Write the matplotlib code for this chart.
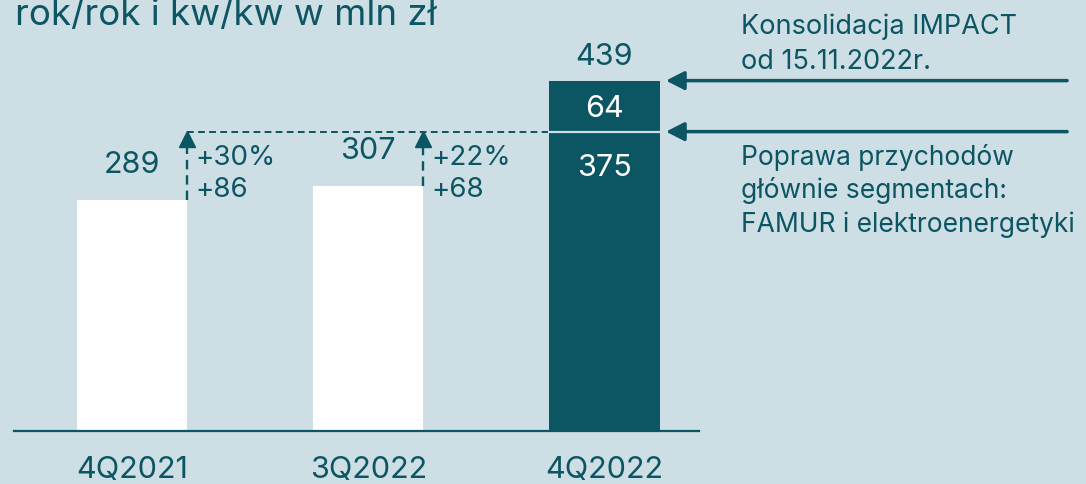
import matplotlib
matplotlib.use("Agg")
import matplotlib.pyplot as plt

plt.rcParams['font.family'] = ['Inter', 'DejaVu Sans']

# data (mln zł)
quarters = ['4Q2021', '3Q2022', '4Q2022']
revenue = [289, 307, 439]
base_4q22 = 375
impact_4q22 = 64
pct_change = ['+30%', '+22%']
abs_change = ['+86', '+68']
note_top = ['Konsolidacja IMPACT', 'od 15.11.2022r.']
note_bottom = ['Poprawa przychodów', 'głównie segmentach:', 'FAMUR i elektroenergetyki']
title = 'rok/rok i kw/kw w mln zł'

BG = '#cddee4'
TEAL = '#0c5563'

fig = plt.figure(figsize=(10.86, 4.85), dpi=100, facecolor=BG)
ax = fig.add_axes([0, 0, 1, 1])
ax.set_facecolor(BG)
ax.set_xlim(-0.5587, 4.038)
ax.set_ylim(-67.1, 541.4)
ax.axis('off')

w = 0.466
hw = w / 2

# bars
ax.bar([0, 1], revenue[:2], width=w, color='white', zorder=2)
ax.bar(2, base_4q22, width=w, color=TEAL, zorder=2)
ax.bar(2, impact_4q22, bottom=base_4q22, width=w, color=TEAL, zorder=2)
ax.plot([2 - hw, 2 + hw], [base_4q22, base_4q22], color=BG, lw=1.6, zorder=3)

# baseline
ax.plot([-0.5, 2.4], [0, 0], color=TEAL, lw=1.6, zorder=3)

# category labels
for i, q in enumerate(quarters):
    ax.text(i, -48.3, q, ha='center', va='center', fontsize=22, color=TEAL)

# value labels
ax.text(0, revenue[0] + 46, str(revenue[0]), ha='center', va='center', fontsize=22, color=TEAL)
ax.text(1, revenue[1] + 45, str(revenue[1]), ha='center', va='center', fontsize=22, color=TEAL)
ax.text(2, revenue[2] + 31, str(revenue[2]), ha='center', va='center', fontsize=22, color=TEAL)
ax.text(2, base_4q22 + impact_4q22 / 2 - 2, str(impact_4q22), ha='center', va='center',
        fontsize=22, color='white', zorder=4)
ax.text(2, base_4q22 - 45, str(base_4q22), ha='center', va='center',
        fontsize=22, color='white', zorder=4)

# dashed reference line at 4Q2022 organic level
dash = (0, (3.5, 2.2))
ax.plot([hw, 2 - hw], [base_4q22, base_4q22], color=TEAL, lw=1.4, ls=dash, zorder=1)

# growth arrows
for i in range(2):
    xa = i + hw
    ax.plot([xa, xa], [revenue[i], base_4q22 - 12], color=TEAL, lw=1.7, ls=(0, (4, 2.5)), zorder=3)
    ax.plot(xa, base_4q22 - 9.4, marker='^', markersize=11, color=TEAL, zorder=4, mec=TEAL)
    ax.text(xa + 0.036, 343, pct_change[i], ha='left', va='center', fontsize=20, color=TEAL)
    ax.text(xa + 0.036, 303, abs_change[i], ha='left', va='center', fontsize=20, color=TEAL)

# right-hand arrows
for yv in [revenue[2], base_4q22]:
    ax.annotate('', xy=(2.26, yv), xytext=(3.958, yv),
                arrowprops=dict(arrowstyle='-|>,head_length=0.55,head_width=0.28',
                                mutation_scale=20, lw=2.5, color=TEAL,
                                shrinkA=0, shrinkB=0))

# right-hand notes
for txt, yv in zip(note_top, [507.5, 463.6]):
    ax.text(2.578, yv, txt, ha='left', va='center', fontsize=19.5, color=TEAL)
for txt, yv in zip(note_bottom, [344.4, 302, 259]):
    ax.text(2.578, yv, txt, ha='left', va='center', fontsize=19, color=TEAL)

# title (cut at the top)
fig.text(15 / 1086, (485 - 25) / 485, title, ha='left', va='baseline',
         fontsize=26.4, color=TEAL)

fig.savefig('out.png', dpi=100, facecolor=BG)
